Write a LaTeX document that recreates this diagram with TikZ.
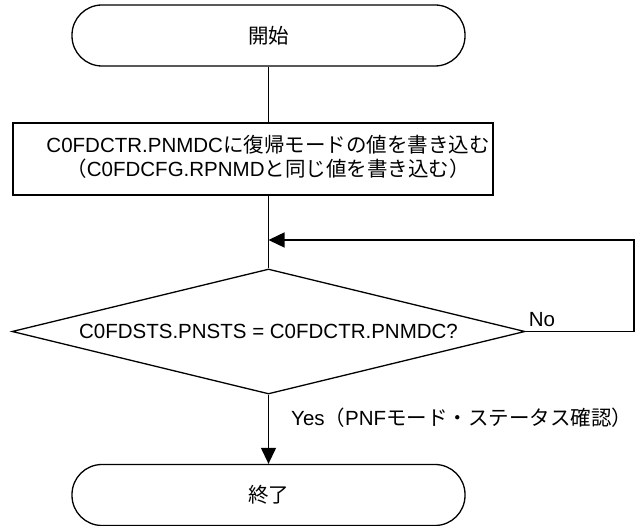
\documentclass[tikz,border=0pt]{standalone}
\usepackage{fontspec}
\setmainfont{Liberation Sans}
\newfontfamily\jp{Noto Sans CJK JP}
\usepackage{tikz}
\usetikzlibrary{positioning,arrows.meta,shapes.geometric}

\tikzset{
  term/.style={draw,line width=1.3pt,rounded corners=30pt,minimum width=393pt,minimum height=61pt},
  procbox/.style={draw,line width=1.3pt,minimum width=480pt,minimum height=72pt},
  decide/.style={draw,line width=1.3pt,diamond,aspect=4.1,minimum width=513pt,minimum height=125pt,inner sep=0pt},
  flow/.style={line width=1.3pt},
  flowarr/.style={flow,-{Triangle[width=15pt,length=16pt]}},
  lbl/.style={anchor=base west,inner sep=0pt}
}

\begin{document}
\begin{tikzpicture}[x=1pt,y=-1pt,font=\fontsize{20.5}{24}\selectfont]
    \useasboundingbox (0,0) rectangle (635,526);

    % blocks
    \node[term] (start) at (268.5,35.5) {\jp 開始};
    \node[procbox] (proc) at (253,159) {};
    \node[align=center] (proctext) at (268,157) {C0FDCTR.PNMDC{\jp に復帰モードの値を書き込む}\\{\jp （}C0FDCFG.RPNMD{\jp と同じ値を書き込む）}};
    \node[decide] (dec) at (268.5,331.5) {C0FDSTS.PNSTS = C0FDCTR.PNMDC?};
    \node[term] (stop) at (268.5,495) {\jp 終了};

    \coordinate (merge) at (268.5,240);
    \coordinate (loopR) at (634,240);

    % connectors
    \draw[flow] (start.south) -- (start.south |- proc.north);
    \draw[flow] (proc.south -| dec.north) -- (dec.north);
    \draw[flowarr] (dec.east) -| (loopR) -- (merge);
    \draw[flowarr] (dec.south) -- (stop.north);

    \node[lbl] (no) at ([xshift=3pt,yshift=4.5pt]dec.east) {No};
    \node[lbl] (yes) at ([xshift=22.5pt,yshift=-31pt]dec.south) {Yes{\jp （}PNF{\jp モード・ステータス確認）}};
\end{tikzpicture}
\end{document}
